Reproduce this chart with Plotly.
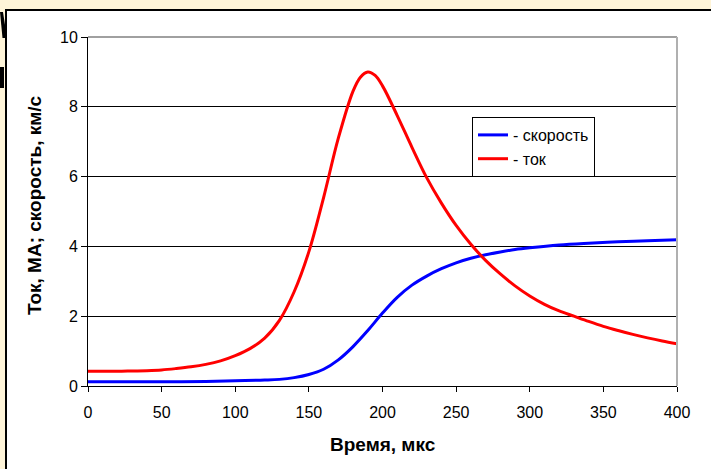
import plotly.graph_objects as go

# Time axis samples, microseconds
time_current = [0, 10, 20, 30, 40, 50, 60, 70, 80, 90, 100, 110, 120, 130, 140, 150,
                160, 170, 180, 185, 190, 195, 200, 210, 220, 230, 240, 250, 260, 270,
                280, 290, 300, 310, 320, 330, 340, 350, 360, 370, 380, 390, 400]
# Current, MA
current = [0.42, 0.42, 0.42, 0.43, 0.44, 0.46, 0.50, 0.55, 0.62, 0.72, 0.87, 1.07, 1.37,
           1.88, 2.70, 3.85, 5.40, 7.10, 8.45, 8.85, 9.00, 8.90, 8.60, 7.75, 6.84, 5.97,
           5.24, 4.60, 4.06, 3.60, 3.21, 2.87, 2.58, 2.34, 2.15, 2.00, 1.85, 1.71, 1.59,
           1.48, 1.38, 1.29, 1.21]

time_speed = [0, 25, 50, 80, 100, 120, 130, 140, 150, 160, 170, 180, 190, 200, 210, 220,
              230, 240, 250, 260, 270, 280, 290, 300, 320, 340, 360, 380, 400]
# Velocity, km/s
speed = [0.12, 0.12, 0.12, 0.13, 0.15, 0.17, 0.19, 0.24, 0.33, 0.48, 0.75, 1.13, 1.59,
         2.09, 2.54, 2.89, 3.15, 3.36, 3.53, 3.66, 3.76, 3.84, 3.91, 3.96, 4.04, 4.09,
         4.13, 4.16, 4.19]

x_ticks = [0, 50, 100, 150, 200, 250, 300, 350, 400]
y_ticks = [0, 2, 4, 6, 8, 10]

W, H = 711, 469
ML, MR, MT, MB = 88, 34, 37, 83
PW, PH = W - ML - MR, H - MT - MB
FONT = "Liberation Sans, Arial, sans-serif"


def px(x):
    return (x - ML) / PW


def py(y):
    return (H - MB - y) / PH


fig = go.Figure()
fig.add_trace(go.Scatter(x=time_speed, y=speed, mode="lines", name="- скорость",
                         line=dict(color="#0000FF", width=3, shape="spline", smoothing=1.0)))
fig.add_trace(go.Scatter(x=time_current, y=current, mode="lines", name="- ток",
                         line=dict(color="#FF0000", width=3, shape="spline", smoothing=1.0)))

shapes = [
    # fragments of text peeking out behind the white panel
    dict(type="path", xref="paper", yref="paper", layer="below",
         path=f"M {px(0)} {py(12)} L {px(3)} {py(12)} L {px(7)} {py(38)} L {px(2.5)} {py(38)} Z",
         fillcolor="black", line=dict(width=0)),
    dict(type="rect", xref="paper", yref="paper", layer="below",
         x0=px(0), x1=px(4), y0=py(67), y1=py(88), fillcolor="black", line=dict(width=0)),
    # white panel with black frame
    dict(type="rect", xref="paper", yref="paper", layer="below",
         x0=px(6), x1=px(720), y0=py(10), y1=py(480),
         fillcolor="white", line=dict(color="black", width=2)),
    # plot-area frame: top and right edges in grey
    dict(type="line", xref="paper", yref="paper", x0=0, x1=1, y0=1, y1=1,
         line=dict(color="#808080", width=1.5)),
    dict(type="line", xref="paper", yref="paper", x0=1, x1=1, y0=0, y1=1,
         line=dict(color="#B0B0B0", width=2)),
]

annotations = [
    dict(text="<b>Время, мкс</b>", xref="paper", yref="paper", x=0.5, y=py(445),
         xanchor="center", yanchor="middle", showarrow=False,
         font=dict(family=FONT, size=19, color="black")),
    dict(text="<b>Ток, МА; скорость, км/с</b>", xref="paper", yref="paper",
         x=px(34.5), y=py(205.5), textangle=-90, xanchor="center", yanchor="middle",
         showarrow=False, font=dict(family=FONT, size=19, color="black")),
]

fig.update_layout(
    width=W, height=H,
    margin=dict(l=ML, r=MR, t=MT, b=MB, autoexpand=False),
    paper_bgcolor="#FEF4D8",
    plot_bgcolor="white",
    font=dict(family=FONT, size=16, color="black"),
    shapes=shapes,
    annotations=annotations,
    showlegend=True,
    legend=dict(x=px(472), y=py(117), xanchor="left", yanchor="top",
                bgcolor="white", bordercolor="black", borderwidth=1,
                font=dict(family=FONT, size=16, color="black"),
                tracegroupgap=0, itemwidth=30),
    xaxis=dict(range=[0, 400], tickvals=x_ticks, ticktext=[str(v) for v in x_ticks],
               showline=True, linecolor="black", linewidth=1,
               ticks="outside", ticklen=5, tickcolor="black", tickwidth=1,
               ticklabelstandoff=7,
               showgrid=False, zeroline=False,
               tickfont=dict(family=FONT, size=16, color="black")),
    yaxis=dict(range=[0, 10], tickvals=y_ticks, ticktext=[str(v) for v in y_ticks],
               showline=True, linecolor="black", linewidth=1,
               ticks="outside", ticklen=6, tickcolor="black", tickwidth=1,
               showgrid=True, gridcolor="black", gridwidth=1, zeroline=False,
               tickfont=dict(family=FONT, size=16, color="black")),
)

fig.write_html("out.html")
